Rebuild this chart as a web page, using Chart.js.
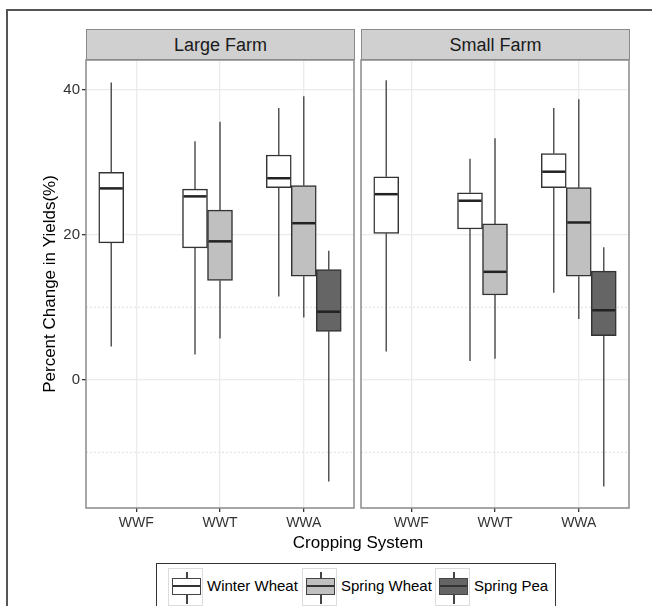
<!DOCTYPE html>
<html lang="en">

<head>
    <meta charset="UTF-8">
    <title>Percent Change in Yields</title>
    <style>
        body { margin: 0; width: 652px; height: 606px; overflow: hidden; background: #fff; position: relative; font-family: "Liberation Sans", Arial, sans-serif; }
        #frame { position: absolute; left: 6px; top: 9px; width: 700px; height: 700px; border-left: 2px solid #555; border-top: 2px solid #555; }
        .strip { position: absolute; top: 29px; height: 31px; background: #d0d0d0; border: 1px solid #8a8a8a; box-sizing: border-box;
                 font-size: 18px; color: #1a1a1a; text-align: center; line-height: 30px; }
        canvas { position: absolute; }
        #xtitle { position: absolute; left: 0; width: 716px; top: 533px; text-align: center; font-size: 17px; color: #000; }
        #legend { position: absolute; left: 156px; top: 563px; width: 400px; height: 60px; border: 1.5px solid #333; box-sizing: border-box; }
        .key { position: absolute; top: 4px; width: 35px; height: 38px; border: 1px solid #dcdcdc; box-sizing: border-box; }
        .key .wh { position: absolute; left: 17px; width: 1.5px; background: #444; }
        .key .bx { position: absolute; left: 3px; top: 9px; width: 29px; height: 17px; border: 1.5px solid #444; box-sizing: border-box; }
        .key .md { position: absolute; left: 0; right: 0; top: 6px; height: 1.5px; background: #333; }
        .lab { position: absolute; top: 13px; font-size: 15px; color: #000; }
    </style>
</head>

<body>
    <div id="frame"></div>
    <div class="strip" style="left:86px;width:269px">Large Farm</div>
    <div class="strip" style="left:361px;width:269px">Small Farm</div>

    <canvas id="largeCanvas" width="360" height="480" style="left:0;top:55px"></canvas>
    <canvas id="smallCanvas" width="280" height="480" style="left:357px;top:55px"></canvas>

    <div id="xtitle">Cropping System</div>
    <div id="legend"></div>

    <script src="https://cdn.jsdelivr.net/npm/chart.js@4.4.1/dist/chart.umd.min.js" charset="UTF-8"></script>
    <script>
        // categories and series
        const categories = ['WWF', 'WWT', 'WWA'];
        const seriesNames = ['Winter Wheat', 'Spring Wheat', 'Spring Pea'];
        const seriesColors = ['#ffffff', '#c0c0c0', '#656565'];
        const yMajorTicks = [0, 20, 40];
        const yMinorTicks = [-10, 10];

        // box stats per category: [min, q1, median, q3, max], null = no box
        const largeWinter = [[4.6, 18.9, 26.4, 28.6, 41.0], [3.5, 18.2, 25.3, 26.3, 32.9], [11.5, 26.5, 27.8, 31.0, 37.5]];
        const largeSpring = [null, [5.7, 13.7, 19.1, 23.4, 35.6], [8.6, 14.3, 21.6, 26.8, 39.1]];
        const largePea = [null, null, [-14.0, 6.7, 9.4, 15.2, 17.8]];

        const smallWinter = [[3.9, 20.2, 25.6, 28.0, 41.3], [2.6, 20.8, 24.7, 25.8, 30.5], [12.0, 26.5, 28.7, 31.2, 37.5]];
        const smallSpring = [null, [2.9, 11.7, 14.9, 21.5, 33.3], [8.4, 14.3, 21.7, 26.5, 38.7]];
        const smallPea = [null, null, [-14.7, 6.1, 9.6, 15.0, 18.3]];

        // whiskers, medians, minor grid and panel border, drawn through the chart scales
        const boxPlugin = {
            id: 'boxExtras',
            beforeDatasetsDraw(chart) {
                const ctx = chart.ctx, area = chart.chartArea, y = chart.scales.y;
                ctx.save();
                ctx.strokeStyle = '#e2e2e2';
                ctx.lineWidth = 1.2;
                ctx.setLineDash([2, 2]);
                yMinorTicks.forEach(v => {
                    const py = y.getPixelForValue(v);
                    ctx.beginPath();
                    ctx.moveTo(area.left, py);
                    ctx.lineTo(area.right, py);
                    ctx.stroke();
                });
                ctx.setLineDash([]);
                ctx.strokeStyle = '#555';
                ctx.lineWidth = 1.5;
                chart.data.datasets.forEach((ds, i) => {
                    const meta = chart.getDatasetMeta(i);
                    ds.stats.forEach((s, j) => {
                        if (!s) return;
                        const x = meta.data[j].x;
                        ctx.beginPath();
                        ctx.moveTo(x, y.getPixelForValue(s[0]));
                        ctx.lineTo(x, y.getPixelForValue(s[1]));
                        ctx.moveTo(x, y.getPixelForValue(s[3]));
                        ctx.lineTo(x, y.getPixelForValue(s[4]));
                        ctx.stroke();
                    });
                });
                ctx.restore();
            },
            afterDatasetsDraw(chart) {
                const ctx = chart.ctx, area = chart.chartArea, y = chart.scales.y;
                ctx.save();
                ctx.strokeStyle = '#222';
                ctx.lineWidth = 2.5;
                chart.data.datasets.forEach((ds, i) => {
                    const meta = chart.getDatasetMeta(i);
                    ds.stats.forEach((s, j) => {
                        if (!s) return;
                        const el = meta.data[j];
                        const py = y.getPixelForValue(s[2]);
                        ctx.beginPath();
                        ctx.moveTo(el.x - el.width / 2 + 1, py);
                        ctx.lineTo(el.x + el.width / 2 - 1, py);
                        ctx.stroke();
                    });
                });
                ctx.strokeStyle = '#8a8a8a';
                ctx.lineWidth = 1.5;
                ctx.strokeRect(area.left, area.top, area.right - area.left, area.bottom - area.top);
                ctx.restore();
            }
        };

        function makeChart(id, stats, showY, padding) {
            const ctx = document.getElementById(id).getContext('2d');
            return new Chart(ctx, {
                type: 'bar',
                data: {
                    datasets: seriesNames.map((name, i) => ({
                        label: name,
                        stats: stats[i],
                        data: stats[i].map((s, j) => s ? { x: j + 1, y: [s[1], s[3]] } : { x: j + 1, y: null }),
                        backgroundColor: seriesColors[i],
                        borderColor: '#333',
                        borderWidth: 1.5,
                        borderSkipped: false,
                        barThickness: 25
                    }))
                },
                options: {
                    responsive: false,
                    animation: false,
                    layout: { padding: padding },
                    plugins: { legend: { display: false }, tooltip: { enabled: false } },
                    scales: {
                        x: {
                            type: 'linear',
                            min: 0.4,
                            max: 3.6,
                            offset: false,
                            afterBuildTicks: scale => { scale.ticks = categories.map((c, i) => ({ value: i + 1 })); },
                            afterFit: scale => { scale.height = 27; scale.paddingLeft = 0; scale.paddingRight = 0; },
                            ticks: {
                                callback: v => categories[v - 1],
                                color: '#333',
                                font: { family: 'Liberation Sans', size: 14 },
                                padding: 3,
                                maxRotation: 0,
                                autoSkip: false
                            },
                            grid: { offset: false, color: '#ebebeb', lineWidth: 1.3, tickColor: '#333', tickLength: 4 },
                            border: { display: false }
                        },
                        y: {
                            type: 'linear',
                            min: -17.66,
                            max: 44.1,
                            afterBuildTicks: scale => { scale.ticks = yMajorTicks.map(v => ({ value: v })); },
                            afterFit: scale => { scale.width = showY ? 86 : 0; scale.paddingTop = 0; scale.paddingBottom = 0; },
                            ticks: {
                                display: showY,
                                color: '#333',
                                font: { family: 'Liberation Sans', size: 15 },
                                padding: 2
                            },
                            grid: { color: '#ebebeb', lineWidth: 1.3, tickColor: '#333', tickLength: showY ? 4 : 0, drawTicks: showY },
                            border: { display: false },
                            title: {
                                display: showY,
                                text: 'Percent Change in Yields(%)',
                                color: '#000',
                                font: { family: 'Liberation Sans', size: 17 },
                                padding: { top: 40, bottom: 0 }
                            }
                        }
                    }
                },
                plugins: [boxPlugin]
            });
        }

        const largeChart = makeChart('largeCanvas', [largeWinter, largeSpring, largePea], true, { left: 0, right: 6, top: 5, bottom: 0 });
        const smallChart = makeChart('smallCanvas', [smallWinter, smallSpring, smallPea], false, { left: 4, right: 8, top: 5, bottom: 0 });

        // legend keys
        const legend = document.getElementById('legend');
        const keyLeft = [11, 145, 278];
        seriesNames.forEach((name, i) => {
            const key = document.createElement('div');
            key.className = 'key';
            key.style.left = keyLeft[i] + 'px';
            key.innerHTML = '<div class="wh" style="top:3px;height:6px"></div>' +
                '<div class="bx" style="background:' + seriesColors[i] + '"><div class="md"></div></div>' +
                '<div class="wh" style="top:26px;height:9px"></div>';
            legend.appendChild(key);
            const lab = document.createElement('div');
            lab.className = 'lab';
            lab.style.left = (keyLeft[i] + 39) + 'px';
            lab.textContent = name;
            legend.appendChild(lab);
        });
    </script>
</body>

</html>
